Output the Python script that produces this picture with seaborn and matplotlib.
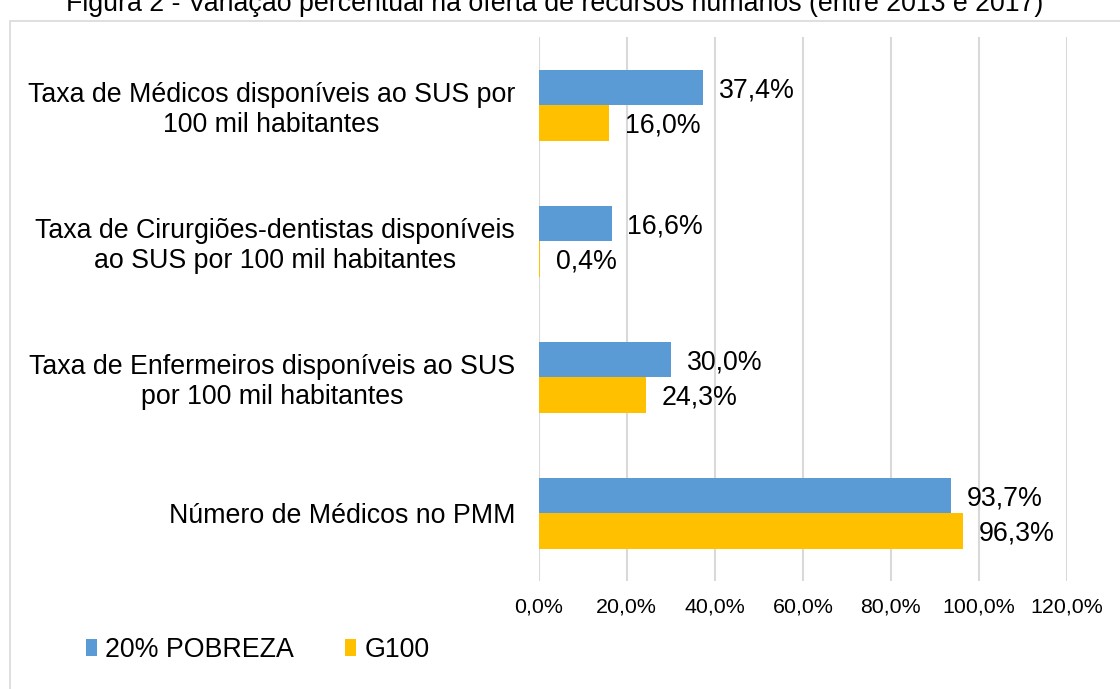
import matplotlib
matplotlib.use('Agg')
import matplotlib.pyplot as plt
import matplotlib.patches as mpatches
import seaborn as sns
import pandas as pd

categories = [
    'Taxa de Médicos disponíveis ao SUS por\n100 mil habitantes',
    'Taxa de Cirurgiões-dentistas disponíveis\nao SUS por 100 mil habitantes',
    'Taxa de Enfermeiros disponíveis ao SUS\npor 100 mil habitantes',
    'Número de Médicos no PMM',
]
series = ['20% POBREZA', 'G100']
pobreza = [0.374, 0.166, 0.300, 0.937]
g100 = [0.160, 0.004, 0.243, 0.963]
xticks = [0.0, 0.2, 0.4, 0.6, 0.8, 1.0, 1.2]
colors = ['#5B9BD5', '#FFC000']
title = 'Figura 2 - Variação percentual na oferta de recursos humanos (entre 2013 e 2017)'

df = pd.DataFrame({
    'categoria': categories * 2,
    'grupo': [series[0]] * 4 + [series[1]] * 4,
    'valor': pobreza + g100,
})

sns.set_style('white')
plt.rcParams['font.family'] = ['Liberation Sans', 'DejaVu Sans']
plt.rcParams['text.color'] = '#000000'

FS = 19.3

fig = plt.figure(figsize=(11.2, 6.89), dpi=100)
ax = fig.add_axes([0.481, 0.1567, 0.4717, 0.7896])

sns.barplot(data=df, y='categoria', x='valor', hue='grupo', order=categories,
            hue_order=series, palette=colors, orient='h', width=0.522,
            saturation=1, linewidth=0, legend=False, ax=ax)

def pct(v):
    return f'{v * 100:.1f}%'.replace('.', ',')

for cont in ax.containers:
    texts = ax.bar_label(cont, labels=[pct(b.get_width()) for b in cont],
                         padding=11.3, fontsize=FS, color='#000000')
    for t in texts:
        t.set_va('center_baseline')

ax.set_xlim(0, 1.2)
ax.set_xticks(xticks)
ax.set_xticklabels([pct(t) for t in xticks], fontsize=15.4)
ax.set_xlabel('')
ax.set_ylabel('')
ax.tick_params(axis='x', length=0, pad=12, labelcolor='#000000')
ax.tick_params(axis='y', length=0, pad=17, labelsize=FS, labelcolor='#000000')
for lbl in ax.get_yticklabels():
    lbl.set_multialignment('center')
ax.grid(axis='x', color='#d9d9d9', linewidth=1.5)
ax.set_axisbelow(True)
for s in ax.spines.values():
    s.set_visible(False)

# chart frame (partly outside the image, as in the reference)
frame = mpatches.Rectangle((10 / 1120, -0.1), 1.2, 1 - 21 / 689 + 0.1,
                           transform=fig.transFigure, fill=False,
                           edgecolor='#d9d9d9', linewidth=1.2)
fig.add_artist(frame)

fig.text(0.4955, 1 - 4 / 689, title, ha='center', va='center', fontsize=FS)

handles = [mpatches.Patch(color=c, label=s, linewidth=0) for c, s in zip(colors, series)]
fig.legend(handles=handles, loc='center left', bbox_to_anchor=(62 / 1120, 1 - 650 / 689),
           ncol=2, frameon=False, fontsize=FS, handlelength=0.42, handleheight=0.6,
           handletextpad=0.3, columnspacing=1.9)

fig.savefig('out.png', dpi=100, facecolor='white')
